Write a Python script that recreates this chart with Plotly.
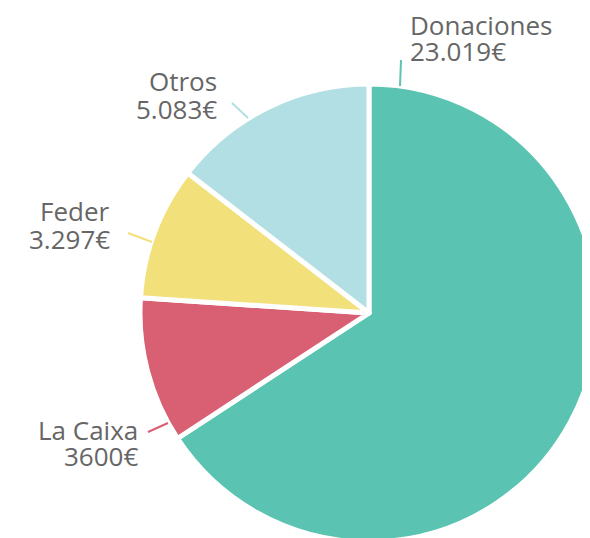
import plotly.graph_objects as go

labels = ["Donaciones", "La Caixa", "Feder", "Otros"]
values = [23019, 3600, 3297, 5083]
value_texts = ["23.019€", "3600€", "3.297€", "5.083€"]
colors = ["#5BC3B1", "#D95F72", "#F2E07A", "#B2DFE3"]

W, H = 590, 538

# pie geometry in figure pixels
CX, CY, R = 361, 305, 229

fig = go.Figure(go.Pie(
    labels=labels,
    values=values,
    sort=False,
    direction="clockwise",
    rotation=0,
    marker=dict(colors=colors, line=dict(color="white", width=5)),
    textinfo="none",
    hoverinfo="skip",
    showlegend=False,
    domain=dict(x=[(CX - R) / W, min(1.0, (CX + R) / W)],
                y=[1 - (CY + R) / H, 1 - (CY - R) / H]),
))

# label layout (figure pixels), converted to paper coords
label_layout = {
    "Donaciones": dict(x=400, y1=17, y2=43, xanchor="left", line=((392, 78), (393, 52))),
    "Otros": dict(x=211, y1=73, y2=101, xanchor="right", line=((224, 95), (240, 110))),
    "Feder": dict(x=104, y1=203, y2=231, xanchor="right", line=((120, 225), (144, 234))),
    "La Caixa": dict(x=132, y1=422, y2=448, xanchor="right", line=((140, 424), (160, 415))),
}

font = dict(family="Open Sans", size=26, color="#666666")
for name, vtxt, col in zip(labels, value_texts, colors):
    L = label_layout[name]
    for txt, yy in ((name, L["y1"]), (vtxt, L["y2"])):
        fig.add_annotation(
            x=L["x"] / W, y=1 - yy / H, xref="paper", yref="paper",
            text=txt, showarrow=False, xanchor=L["xanchor"], yanchor="middle",
            font=font,
        )
    (x0, y0), (x1, y1) = L["line"]
    fig.add_shape(type="line", xref="paper", yref="paper",
                  x0=x0 / W, y0=1 - y0 / H, x1=x1 / W, y1=1 - y1 / H,
                  line=dict(color=col, width=2))

fig.update_layout(
    width=W, height=H,
    margin=dict(l=0, r=0, t=0, b=0),
    paper_bgcolor="white",
    plot_bgcolor="white",
)

fig.write_html("out.html")
